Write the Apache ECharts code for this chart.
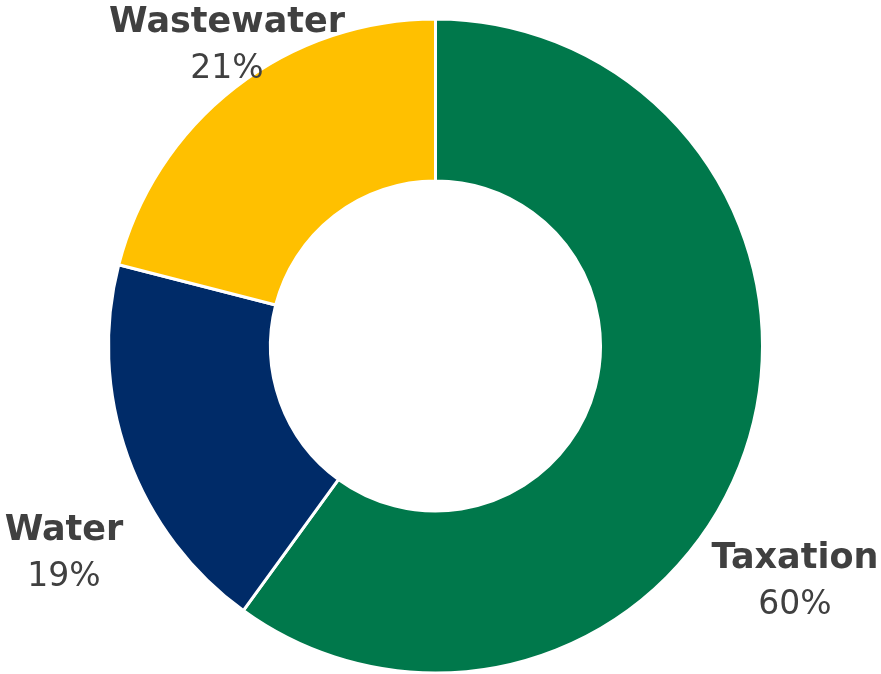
<!DOCTYPE html>
<html>
<head>
<meta charset="utf-8">
<script src="https://cdn.jsdelivr.net/npm/echarts@6/dist/echarts.min.js"></script>
<style>
  html, body { margin: 0; padding: 0; background: #ffffff; }
  #chart { width: 881px; height: 674px; }
</style>
</head>
<body>
<div id="chart"></div>
<script>
// Funding sources, share of total (%)
const categories = ['Taxation', 'Water', 'Wastewater'];
const shares = [60, 19, 21];
const sliceColors = ['#00784B', '#002B68', '#FFC000'];

// Where each label block is centred on the canvas (px)
const labelAnchors = [
  [795, 582],
  [64, 554],
  [227, 46]
];

const chart = echarts.init(document.getElementById('chart'), null, { renderer: 'canvas' });

chart.setOption({
  animation: false,
  backgroundColor: '#ffffff',
  series: [{
    type: 'pie',
    center: [435.5, 346],
    radius: [165, 327],
    startAngle: 90,
    clockwise: true,
    avoidLabelOverlap: false,
    itemStyle: { borderColor: '#ffffff', borderWidth: 3 },
    label: {
      show: true,
      position: 'outside',
      formatter: p => '{name|' + p.name + '}\n{pct|' + p.value + '%}',
      rich: {
        name: {
          fontFamily: '"DejaVu Sans", sans-serif',
          fontWeight: 'bold',
          fontSize: 35,
          lineHeight: 46,
          color: '#404040',
          align: 'center'
        },
        pct: {
          fontFamily: '"DejaVu Sans", sans-serif',
          fontWeight: 'normal',
          fontSize: 33,
          lineHeight: 46,
          color: '#404040',
          align: 'center'
        }
      }
    },
    labelLine: { show: false },
    labelLayout: params => ({
      x: labelAnchors[params.dataIndex][0],
      y: labelAnchors[params.dataIndex][1],
      align: 'center',
      verticalAlign: 'middle'
    }),
    data: categories.map((name, i) => ({
      name: name,
      value: shares[i],
      itemStyle: { color: sliceColors[i] }
    }))
  }]
});
</script>
</body>
</html>
